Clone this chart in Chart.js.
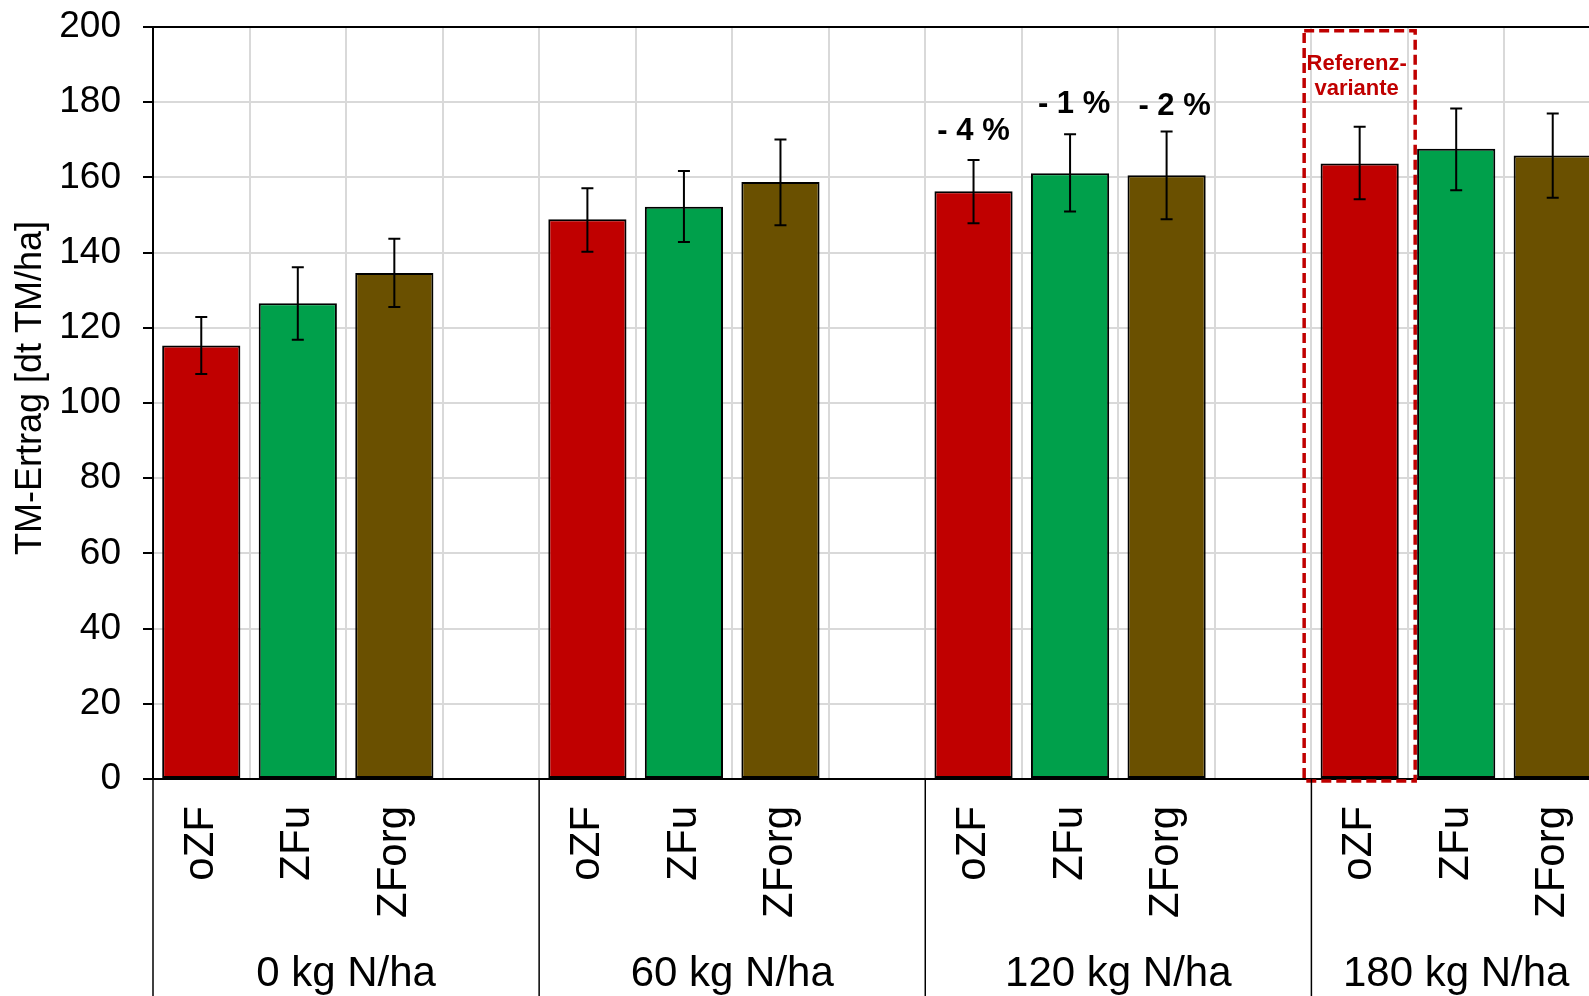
<!DOCTYPE html>
<html>

<head>
    <title>TM-Ertrag</title>
    <meta charset="utf-8">
    <script src="https://cdn.jsdelivr.net/npm/chart.js"></script>
    <style>
        html, body { margin: 0; padding: 0; overflow: hidden; background: #fff; }
        canvas { display: block; }
    </style>
</head>

<body>
    <canvas id="yieldChart" width="1605" height="1000"></canvas>
    <script>
        // sub-categories (empty slot = gap between N levels)
        var categories = ['oZF', 'ZFu', 'ZForg', '', 'oZF', 'ZFu', 'ZForg', '', 'oZF', 'ZFu', 'ZForg', '', 'oZF', 'ZFu', 'ZForg'];
        var groupLabels = ['0 kg N/ha', '60 kg N/ha', '120 kg N/ha', '180 kg N/ha'];
        var groupSizes = [4, 4, 4, 3];
        var yTitle = 'TM-Ertrag [dt TM/ha]';

        // TM-Ertrag in dt TM/ha
        var yieldValues = [115.3, 126.5, 134.6, null, 148.9, 152.2, 158.8, null, 156.3, 161.1, 160.6, null, 163.7, 167.6, 165.8];
        var errUpper = [122.9, 136.1, 143.7, null, 157.1, 161.7, 170.1, null, 164.6, 171.5, 172.2, null, 173.5, 178.3, 177.0];
        var errLower = [107.7, 116.8, 125.5, null, 140.2, 142.8, 147.3, null, 147.8, 150.9, 148.9, null, 154.2, 156.6, 154.6];

        // relative change vs. reference, shown above the 120 kg bars
        var changeLabels = [null, null, null, null, null, null, null, null, '- 4 %', '- 1 %', '- 2 %', null, null, null, null];
        var changeLabelY = [null, null, null, null, null, null, null, null, 172.2, 179.5, 178.9, null, null, null, null];

        // reference variant box
        var refIndex = 12;
        var refText = ['Referenz-', 'variante'];
        var refTextY = [190.2, 183.5];
        var refBoxTop = 199;
        var refBoxBottom = -0.5;

        var yMin = 0, yMax = 200, yStep = 20;

        var RED = '#C00000', GREEN = '#00A04B', BROWN = '#6A5000';
        var barColors = categories.map(function (c) {
            if (c == 'oZF') return RED;
            if (c == 'ZFu') return GREEN;
            return BROWN;
        });

        var FONT = "'Liberation Sans', Arial, sans-serif";

        function catWidth(x) {
            return x.getPixelForValue(1) - x.getPixelForValue(0);
        }

        var extrasPlugin = {
            id: 'extras',
            afterDatasetsDraw: function (chart) {
                var ctx = chart.ctx;
                var x = chart.scales.x, y = chart.scales.y;
                var meta = chart.getDatasetMeta(0);
                var w = catWidth(x);

                ctx.save();
                // error bars
                ctx.strokeStyle = '#000';
                ctx.lineWidth = 2;
                for (var i = 0; i < yieldValues.length; i++) {
                    if (errUpper[i] == null) continue;
                    var cx = meta.data[i].x;
                    var top = y.getPixelForValue(errUpper[i]);
                    var bot = y.getPixelForValue(errLower[i]);
                    ctx.beginPath();
                    ctx.moveTo(cx, top); ctx.lineTo(cx, bot);
                    ctx.moveTo(cx - 6, top); ctx.lineTo(cx + 6, top);
                    ctx.moveTo(cx - 6, bot); ctx.lineTo(cx + 6, bot);
                    ctx.stroke();
                }

                // percent labels
                ctx.fillStyle = '#000';
                ctx.font = 'bold 31px ' + FONT;
                ctx.textAlign = 'center';
                ctx.textBaseline = 'middle';
                for (var j = 0; j < changeLabels.length; j++) {
                    if (!changeLabels[j]) continue;
                    ctx.fillText(changeLabels[j], x.getPixelForValue(j) + (j - 8) * 4, y.getPixelForValue(changeLabelY[j]));
                }

                // reference box
                var rc = x.getPixelForValue(refIndex);
                ctx.strokeStyle = '#C00000';
                ctx.lineWidth = 3.5;
                ctx.setLineDash([10, 5]);
                var bx0 = rc - w * 0.575, bx1 = rc + w * 0.575;
                var by0 = y.getPixelForValue(refBoxTop), by1 = y.getPixelForValue(refBoxBottom);
                ctx.strokeRect(bx0, by0, bx1 - bx0, by1 - by0);
                ctx.setLineDash([]);
                ctx.fillStyle = '#C00000';
                ctx.font = 'bold 22px ' + FONT;
                for (var k = 0; k < refText.length; k++) {
                    ctx.fillText(refText[k], rc - 3, y.getPixelForValue(refTextY[k]));
                }
                ctx.restore();
            },
            afterDraw: function (chart) {
                var ctx = chart.ctx;
                var x = chart.scales.x;
                var w = catWidth(x);
                var area = chart.chartArea;
                ctx.save();
                ctx.strokeStyle = '#000';
                ctx.lineWidth = 1.5;
                ctx.fillStyle = '#000';
                ctx.font = '42px ' + FONT;
                ctx.textAlign = 'center';
                ctx.textBaseline = 'alphabetic';
                var start = 0;
                for (var g = 0; g < groupLabels.length; g++) {
                    var left = x.getPixelForValue(start) - w / 2;
                    var right = x.getPixelForValue(start + groupSizes[g] - 1) + w / 2;
                    ctx.beginPath();
                    ctx.moveTo(left, area.bottom);
                    ctx.lineTo(left, chart.height);
                    ctx.stroke();
                    ctx.fillText(groupLabels[g], (left + right) / 2, area.bottom + 207);
                    start += groupSizes[g];
                }

                // y axis title (sits a little above the middle, as in the original)
                ctx.font = '36px ' + FONT;
                ctx.textBaseline = 'middle';
                ctx.translate(31, (area.top + area.bottom) / 2 - 15);
                ctx.rotate(-Math.PI / 2);
                ctx.fillText(yTitle, 0, 0);
                ctx.restore();
            }
        };

        new Chart(document.getElementById('yieldChart'), {
            type: 'bar',
            data: {
                labels: categories,
                datasets: [{
                    data: yieldValues,
                    backgroundColor: barColors,
                    borderColor: '#000',
                    borderWidth: 2,
                    borderSkipped: false,
                    barPercentage: 0.81,
                    categoryPercentage: 1
                }]
            },
            options: {
                responsive: false,
                animation: false,
                layout: { padding: { top: 27, right: 4, left: 0, bottom: 0 } },
                plugins: {
                    legend: { display: false },
                    tooltip: { enabled: false }
                },
                scales: {
                    x: {
                        offset: true,
                        grid: { offset: true, color: '#D9D9D9', lineWidth: 2, drawTicks: false },
                        border: { color: '#000', width: 2 },
                        ticks: {
                            autoSkip: false,
                            minRotation: 90,
                            maxRotation: 90,
                            padding: 27,
                            color: '#000',
                            font: { family: FONT, size: 42 }
                        },
                        afterFit: function (scale) {
                            scale.height = 221;
                            scale.paddingLeft = 0;
                            scale.paddingRight = 0;
                        }
                    },
                    y: {
                        min: yMin,
                        max: yMax,
                        grid: {
                            color: function (c) { return c.tick && c.tick.value == yMax ? '#000' : '#D9D9D9'; },
                            lineWidth: 2,
                            tickColor: '#000',
                            tickLength: 10
                        },
                        border: { color: '#000', width: 2 },
                        ticks: {
                            stepSize: yStep,
                            padding: 22,
                            color: '#000',
                            font: { family: FONT, size: 37 }
                        },
                        afterFit: function (scale) {
                            scale.width = 153;
                            scale.paddingTop = 0;
                            scale.paddingBottom = 0;
                        }
                    }
                }
            },
            plugins: [extrasPlugin]
        });
    </script>
</body>

</html>
